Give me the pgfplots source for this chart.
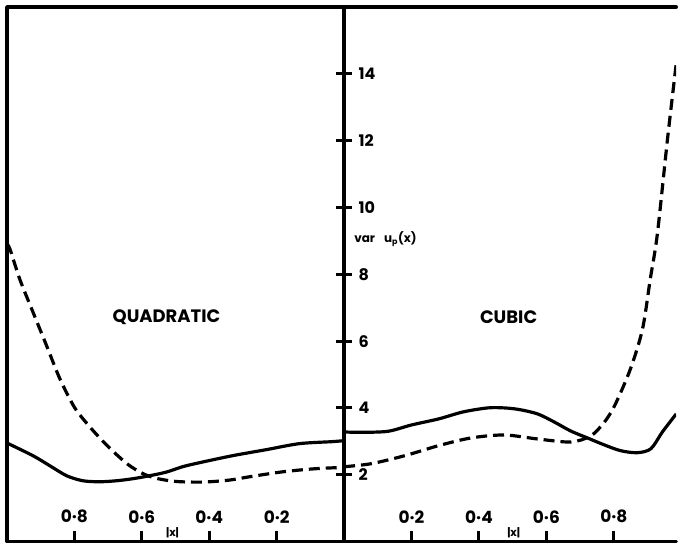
\documentclass[border=0pt]{standalone}
\usepackage{fontspec}
\setmainfont{Poppins}
\usepackage{pgfplots}
\pgfplotsset{compat=1.18}
\pgfplotstableread{
x y
1.000 2.95
0.923 2.57
0.873 2.27
0.823 1.97
0.775 1.82
0.725 1.79
0.675 1.82
0.627 1.88
0.577 1.97
0.527 2.08
0.479 2.24
0.429 2.36
0.331 2.57
0.231 2.75
0.133 2.93
0.036 2.99
0.000 3.02
}\quadsolid
\pgfplotstableread{
x y
1.000 8.90
0.991 8.75
0.962 7.85
0.923 6.87
0.882 5.85
0.843 4.87
0.800 4.02
0.760 3.50
0.720 3.05
0.680 2.65
0.640 2.30
0.600 2.05
0.560 1.90
0.500 1.80
0.420 1.78
0.340 1.84
0.280 1.94
0.180 2.09
0.085 2.18
0.000 2.22
}\quaddash
\pgfplotstableread{
x y
0.000 3.28
0.050 3.27
0.130 3.30
0.200 3.49
0.280 3.67
0.353 3.88
0.426 4.00
0.475 4.00
0.520 3.95
0.574 3.82
0.623 3.58
0.672 3.31
0.722 3.10
0.770 2.90
0.820 2.72
0.870 2.66
0.910 2.78
0.944 3.28
0.985 3.82
}\cubsolid
\pgfplotstableread{
x y
0.000 2.24
0.080 2.33
0.180 2.57
0.280 2.87
0.376 3.10
0.475 3.19
0.574 3.07
0.672 2.98
0.731 3.16
0.770 3.55
0.802 4.06
0.849 5.16
0.885 6.36
0.908 7.85
0.929 9.20
0.959 12.03
0.985 14.30
}\cubdash
\begin{document}
\begin{tikzpicture}
\pgfplotsset{
  common/.style={
    scale only axis, height=536pt, ymin=0, ymax=16,
    axis line style={line width=3.6pt, line cap=round, line join=round},
    tick style={line width=3pt, black},
    xtick pos=bottom, tick align=inside, major tick length=11pt,
    xtick={0.2,0.4,0.6,0.8},
    xticklabels={0·2,0·4,0·6,0·8},
    xticklabel style={anchor=south, yshift=15pt, font=\bfseries\fontsize{17}{17}\selectfont},
    ytick=\empty,
  },
  solidc/.style={black, line width=3.2pt, smooth},
  dashc/.style={black, line width=3.2pt, smooth, dash pattern=on 11pt off 6pt},
}
\begin{axis}[common, name=L, width=338pt, xmin=0, xmax=1, x dir=reverse]
  \addplot[solidc] table {\quadsolid};
  \addplot[dashc] table {\quaddash};
  \node[font=\bfseries\fontsize{18}{18}\selectfont] at (axis cs:0.527,6.72) {QUADRATIC};
  \node[font=\bfseries\fontsize{11}{11}\selectfont] at (axis cs:0.509,0.25) {|x|};
\end{axis}
\begin{axis}[common, name=R, at={(L.south east)}, anchor=south west,
  width=333pt, xmin=0, xmax=0.985,
  separate axis lines, y axis line style={draw=none}]
  \addplot[solidc] table {\cubsolid};
  \addplot[dashc] table {\cubdash};
  \node[font=\bfseries\fontsize{18}{18}\selectfont] at (axis cs:0.488,6.72) {CUBIC};
  \node[font=\bfseries\fontsize{11}{11}\selectfont] at (axis cs:0.503,0.25) {|x|};
  \node[anchor=west, font=\bfseries\fontsize{12}{12}\selectfont] at (axis cs:0.02,9.05) {var\hspace{9pt}u\textsubscript{p}(x)};
\end{axis}
\begin{axis}[scale only axis, at={(L.south west)}, anchor=south west,
  width=338pt, height=536pt, xmin=0, xmax=1, ymin=0, ymax=16,
  axis x line=none, axis y line=right,
  axis line style={line width=3.6pt, -},
  tick style={line width=3pt, black},
  tick align=center, major tick length=16pt,
  ytick={2,4,6,8,10,12,14},
  yticklabels={2,4,6,8,10,12,14},
  yticklabel style={anchor=west, xshift=3pt, font=\bfseries\fontsize{16}{16}\selectfont},
]
\end{axis}
\path (L.south west) ++(-7pt,-2pt);
\path (R.north east) ++(0,7pt);
\end{tikzpicture}
\end{document}
